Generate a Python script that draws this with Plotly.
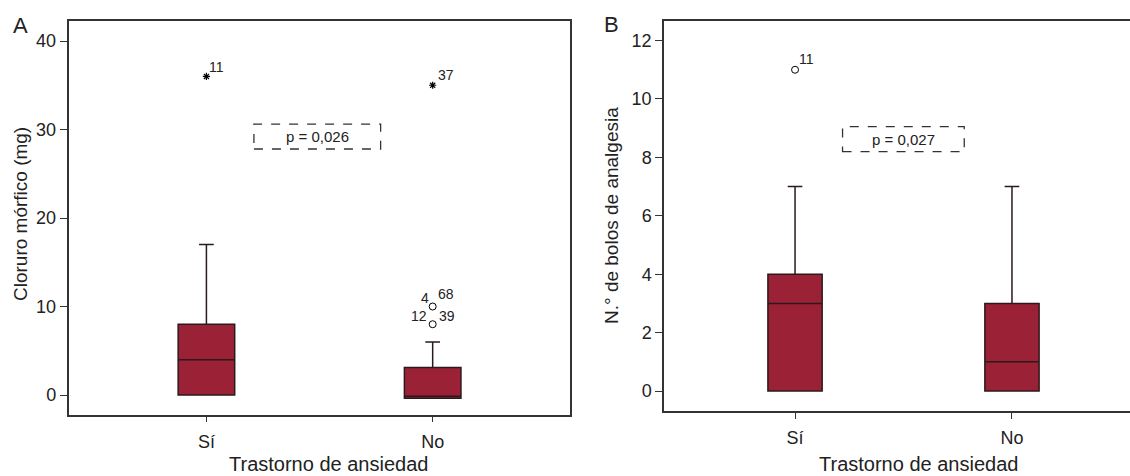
import plotly.graph_objects as go

categories = ["Sí", "No"]

# Panel A: Cloruro mórfico (mg)
a_q1 = [0, -0.35]
a_median = [4, -0.15]
a_q3 = [8, 3.1]
a_lower = [0, -0.35]
a_upper = [17, 6]
a_extreme_x = ["Sí", "No"]
a_extreme_y = [36, 35]
a_extreme_lbl = ["11", "37"]
a_out_x = ["No", "No"]
a_out_y = [10, 8]
a_p = "p = 0,026"

# Panel B: N.º de bolos de analgesia
b_q1 = [0, 0]
b_median = [3, 1]
b_q3 = [4, 3]
b_lower = [0, 0]
b_upper = [7, 7]
b_out_x = ["Sí"]
b_out_y = [11]
b_out_lbl = ["11"]
b_p = "p = 0,027"

x_title = "Trastorno de ansiedad"
a_y_title = "Cloruro mórfico (mg)"
b_y_title = "N.° de bolos de analgesia"

FILL = "#9B2136"
LINE = "#2b1a1c"
INK = "#222222"
FONT = "Liberation Sans, Arial, Helvetica, sans-serif"

fig = go.Figure()

fig.add_trace(go.Box(
    x=categories, q1=a_q1, median=a_median, q3=a_q3,
    lowerfence=a_lower, upperfence=a_upper,
    fillcolor=FILL, line=dict(color=LINE, width=1.5),
    width=0.25, whiskerwidth=0.26, boxpoints=False,
    xaxis="x", yaxis="y", showlegend=False, hoverinfo="skip"))
fig.add_trace(go.Scatter(
    x=a_extreme_x, y=a_extreme_y, mode="markers",
    marker=dict(symbol="asterisk-open", size=6, color="black",
                line=dict(color="black", width=1.2)),
    xaxis="x", yaxis="y", showlegend=False, hoverinfo="skip"))
fig.add_trace(go.Scatter(
    x=a_out_x, y=a_out_y, mode="markers",
    marker=dict(symbol="circle-open", size=7, color="black",
                line=dict(color="black", width=1)),
    xaxis="x", yaxis="y", showlegend=False, hoverinfo="skip"))

fig.add_trace(go.Box(
    x=categories, q1=b_q1, median=b_median, q3=b_q3,
    lowerfence=b_lower, upperfence=b_upper,
    fillcolor=FILL, line=dict(color=LINE, width=1.5),
    width=0.25, whiskerwidth=0.27, boxpoints=False,
    xaxis="x2", yaxis="y2", showlegend=False, hoverinfo="skip"))
fig.add_trace(go.Scatter(
    x=b_out_x, y=b_out_y, mode="markers",
    marker=dict(symbol="circle-open", size=7, color="black",
                line=dict(color="black", width=1)),
    xaxis="x2", yaxis="y2", showlegend=False, hoverinfo="skip"))

lbl_font = dict(family=FONT, size=14, color=INK)
ann = []
# labels for outliers, panel A
ann.append(dict(x=a_extreme_x[0], y=a_extreme_y[0], text=a_extreme_lbl[0], xref="x", yref="y",
                showarrow=False, xanchor="left", yanchor="middle", xshift=1, yshift=9, font=lbl_font))
ann.append(dict(x=a_extreme_x[1], y=a_extreme_y[1], text=a_extreme_lbl[1], xref="x", yref="y",
                showarrow=False, xanchor="left", yanchor="middle", xshift=3, yshift=10, font=lbl_font))
ann.append(dict(x=a_out_x[0], y=a_out_y[0], text="4", xref="x", yref="y",
                showarrow=False, xanchor="right", yanchor="middle", xshift=-2, yshift=9, font=lbl_font))
ann.append(dict(x=a_out_x[0], y=a_out_y[0], text="68", xref="x", yref="y",
                showarrow=False, xanchor="left", yanchor="middle", xshift=3, yshift=13, font=lbl_font))
ann.append(dict(x=a_out_x[1], y=a_out_y[1], text="12", xref="x", yref="y",
                showarrow=False, xanchor="right", yanchor="middle", xshift=-4, yshift=8, font=lbl_font))
ann.append(dict(x=a_out_x[1], y=a_out_y[1], text="39", xref="x", yref="y",
                showarrow=False, xanchor="left", yanchor="middle", xshift=4, yshift=8, font=lbl_font))
# label panel B
ann.append(dict(x=b_out_x[0], y=b_out_y[0], text=b_out_lbl[0], xref="x2", yref="y2",
                showarrow=False, xanchor="left", yanchor="middle", xshift=2, yshift=11, font=lbl_font))
# p-values
ann.append(dict(x=0.49, y=29.2, text=a_p, xref="x", yref="y", showarrow=False,
                font=dict(family=FONT, size=15, color=INK)))
ann.append(dict(x=0.5, y=8.62, text=b_p, xref="x2", yref="y2", showarrow=False,
                font=dict(family=FONT, size=15, color=INK)))
# panel letters
ann.append(dict(x=11 / 1130, y=1 - 25 / 476, xref="paper", yref="paper", text="A", showarrow=False,
                xanchor="left", yanchor="middle", font=dict(family=FONT, size=22, color=INK)))
ann.append(dict(x=602 / 1130, y=1 - 24 / 476, xref="paper", yref="paper", text="B", showarrow=False,
                xanchor="left", yanchor="middle", font=dict(family=FONT, size=22, color=INK)))
# axis titles
title_font = dict(family=FONT, size=20, color=INK)
ytitle_font = dict(family=FONT, size=19, color=INK)
ann.append(dict(x=328 / 1130, y=1 - 464 / 476, xref="paper", yref="paper", text=x_title,
                showarrow=False, xanchor="center", yanchor="middle", font=title_font))
ann.append(dict(x=918 / 1130, y=1 - 464 / 476, xref="paper", yref="paper", text=x_title,
                showarrow=False, xanchor="center", yanchor="middle", font=title_font))
ann.append(dict(x=21 / 1130, y=1 - 214 / 476, xref="paper", yref="paper", text=a_y_title,
                showarrow=False, xanchor="center", yanchor="middle", textangle=-90, font=ytitle_font))
ann.append(dict(x=612 / 1130, y=1 - 216 / 476, xref="paper", yref="paper", text=b_y_title,
                showarrow=False, xanchor="center", yanchor="middle", textangle=-90, font=ytitle_font))

shapes = [
    dict(type="rect", xref="x", yref="y", x0=0.21, x1=0.77, y0=27.8, y1=30.6,
         line=dict(color="#333", width=1.3, dash="dash")),
    dict(type="rect", xref="x2", yref="y2", x0=0.219, x1=0.78, y0=8.2, y1=9.05,
         line=dict(color="#333", width=1.3, dash="dash")),
]

axis_font = dict(family=FONT, size=18, color=INK)

common_x = dict(type="category", categoryorder="array", categoryarray=categories,
                showline=True, linecolor="#333", linewidth=1.5, mirror=True,
                ticks="outside", ticklen=6, tickcolor="#333", tickwidth=1.3,
                ticklabelstandoff=4,
                showgrid=False, zeroline=False, tickfont=axis_font, automargin=False)
common_y = dict(showline=True, linecolor="#333", linewidth=1.5,
                ticks="outside", ticklen=7, tickcolor="#333", tickwidth=1.3,
                showgrid=False, zeroline=False, tickfont=axis_font, automargin=False)

fig.update_layout(
    width=1130, height=476,
    margin=dict(l=0, r=0, t=0, b=0, autoexpand=False),
    paper_bgcolor="white", plot_bgcolor="white",
    annotations=ann, shapes=shapes,
    xaxis=dict(domain=[68.5 / 1130, 570 / 1130], range=[-0.6096, 1.607], **common_x),
    yaxis=dict(domain=[1 - 414.5 / 476, 1 - 21 / 476], range=[-2.2, 42.26],
               tickvals=[0, 10, 20, 30, 40], mirror=True, **common_y),
    xaxis2=dict(domain=[664 / 1130, 1.0], range=[-0.604, 1.544], anchor="y2", **common_x),
    yaxis2=dict(domain=[1 - 411 / 476, 1 - 21 / 476], range=[-0.685, 12.67], anchor="x2",
                tickvals=[0, 2, 4, 6, 8, 10, 12], mirror=False, **common_y),
)

fig.write_html("out.html", config={"displayModeBar": False},
               post_script="document.body.style.margin='0';document.body.style.overflow='hidden';")
